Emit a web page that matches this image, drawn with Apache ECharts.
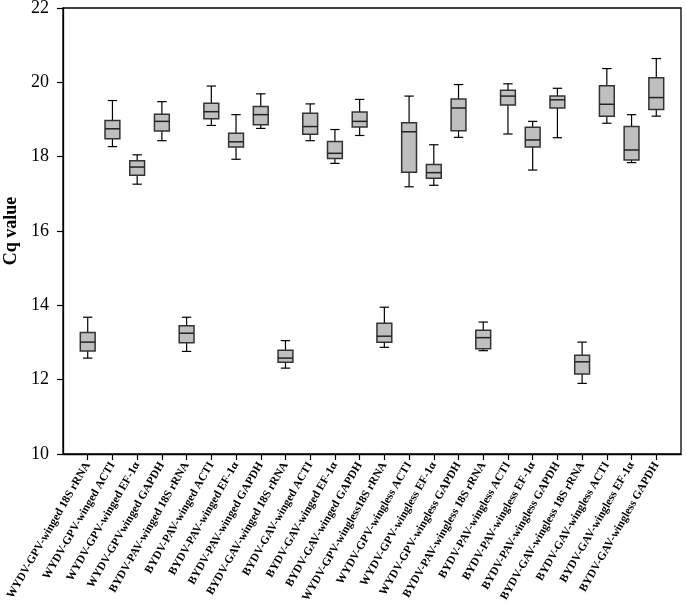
<!DOCTYPE html>
<html>
<head>
<meta charset="utf-8">
<script src="https://cdn.jsdelivr.net/npm/echarts@6/dist/echarts.min.js"></script>
<style>html,body{margin:0;padding:0;background:#fff}#c{width:686px;height:615px}</style>
</head>
<body>
<div id="c"></div>
<script>
var categories = [
  'WYDV-GPV-winged 18S rRNA','WYDV-GPV-winged ACTI','WYDV-GPV-winged EF-1α','WYDV-GPVwinged GAPDH',
  'BYDV-PAV-winged 18S rRNA','BYDV-PAV-winged ACTI','BYDV-PAV-winged EF-1α','BYDV-PAV-winged GAPDH',
  'BYDV-GAV-winged 18S rRNA','BYDV-GAV-winged ACTI','BYDV-GAV-winged EF-1α','BYDV-GAV-winged GAPDH',
  'WYDV-GPV-wingless18S rRNA','WYDV-GPV-wingless ACTI','WYDV-GPV-wingless EF-1α','WYDV-GPV-wingless GAPDH',
  'BYDV-PAV-wingless 18S rRNA','BYDV-PAV-wingless ACTI','BYDV-PAV-wingless EF-1α','BYDV-PAV-wingless GAPDH',
  'BYDV-GAV-wingless 18S rRNA','BYDV-GAV-wingless ACTI','BYDV-GAV-wingless EF-1α','BYDV-GAV-wingless GAPDH'
];
var whiskerLow  = [12.58,18.27,17.26,18.43, 12.76,18.84,17.93,18.76, 12.31,18.43,17.82,18.57, 12.87,17.19,17.23,18.52, 12.78,18.61,17.64,18.51, 11.90,18.90,17.84,19.09];
var q1          = [12.77,18.48,17.50,18.69, 12.99,19.02,18.26,18.86, 12.47,18.60,17.95,18.80, 13.01,17.58,17.42,18.70, 12.83,19.39,18.26,19.31, 12.15,19.09,17.91,19.27];
var median      = [13.01,18.75,17.72,18.95, 13.25,19.21,18.40,19.13, 12.58,18.81,18.09,18.95, 13.17,18.67,17.57,19.31, 13.13,19.63,18.45,19.53, 12.48,19.41,18.18,19.59];
var q3          = [13.27,18.97,17.89,19.14, 13.45,19.44,18.63,19.35, 12.79,19.17,18.41,19.20, 13.52,18.91,17.79,19.55, 13.33,19.79,18.79,19.63, 12.66,19.91,18.81,20.12];
var whiskerHigh = [13.68,19.51,18.05,19.48, 13.68,19.90,19.13,19.69, 13.05,19.42,18.73,19.54, 13.95,19.63,18.32,19.94, 13.55,19.96,18.95,19.84, 13.01,20.37,19.13,20.64];
var yTicks = [10, 12, 14, 16, 18, 20, 22];

var axisCats = [''].concat(categories).concat(['']);
var data = categories.map(function (c, i) {
  return [i + 1, whiskerLow[i], q1[i], median[i], q3[i], whiskerHigh[i]];
});

var chart = echarts.init(document.getElementById('c'));
var serif = 'Liberation Serif';
chart.setOption({
  animation: false,
  grid: { left: 63, right: 5, top: 8, bottom: 161, outerBoundsMode: 'none', containLabel: false, show: true, borderColor: '#000', borderWidth: 1.3, backgroundColor: 'transparent' },
  xAxis: {
    type: 'category',
    data: axisCats,
    boundaryGap: false,
    axisLine: { lineStyle: { color: '#000', width: 1.3 } },
    axisTick: { length: 6, lineStyle: { color: '#000', width: 1.2 }, interval: function (i) { return i > 0 && i < axisCats.length - 1; } },
    axisLabel: { interval: 0, rotate: 60, margin: 9, fontFamily: serif, fontWeight: 'bold', fontSize: 11.5, color: '#000' },
    splitLine: { show: false }
  },
  yAxis: {
    type: 'value',
    min: yTicks[0], max: yTicks[yTicks.length - 1], interval: 2,
    name: 'Cq value', nameLocation: 'middle', nameGap: 42,
    nameTextStyle: { fontFamily: serif, fontWeight: 'bold', fontSize: 18, color: '#000' },
    axisLine: { show: true, lineStyle: { color: '#000', width: 1.3 } },
    axisTick: { show: true, length: 6, lineStyle: { color: '#000', width: 1.2 } },
    axisLabel: { fontFamily: serif, fontSize: 18, color: '#000', margin: 14 },
    splitLine: { show: false }
  },
  series: [{
    type: 'custom',
    data: data,
    encode: { x: 0, y: [1, 2, 3, 4, 5] },
    renderItem: function (params, api) {
      var x = api.value(0);
      var pLow = api.coord([x, api.value(1)]);
      var pQ1 = api.coord([x, api.value(2)]);
      var pMed = api.coord([x, api.value(3)]);
      var pQ3 = api.coord([x, api.value(4)]);
      var pHigh = api.coord([x, api.value(5)]);
      var band = api.size([1, 0])[0];
      var bw = band * 0.6, cw = band * 0.38;
      var cx = pMed[0];
      var line = { stroke: '#000', lineWidth: 1.2 };
      return {
        type: 'group',
        children: [
          { type: 'line', shape: { x1: cx, y1: pHigh[1], x2: cx, y2: pQ3[1] }, style: line },
          { type: 'line', shape: { x1: cx, y1: pQ1[1], x2: cx, y2: pLow[1] }, style: line },
          { type: 'line', shape: { x1: cx - cw / 2, y1: pHigh[1], x2: cx + cw / 2, y2: pHigh[1] }, style: line },
          { type: 'line', shape: { x1: cx - cw / 2, y1: pLow[1], x2: cx + cw / 2, y2: pLow[1] }, style: line },
          { type: 'rect', shape: { x: cx - bw / 2, y: pQ3[1], width: bw, height: pQ1[1] - pQ3[1] }, style: { fill: '#bfbfbf', stroke: '#333', lineWidth: 1.5 } },
          { type: 'line', shape: { x1: cx - bw / 2, y1: pMed[1], x2: cx + bw / 2, y2: pMed[1] }, style: { stroke: '#222', lineWidth: 1.5 } }
        ]
      };
    }
  }]
});
</script>
</body>
</html>
